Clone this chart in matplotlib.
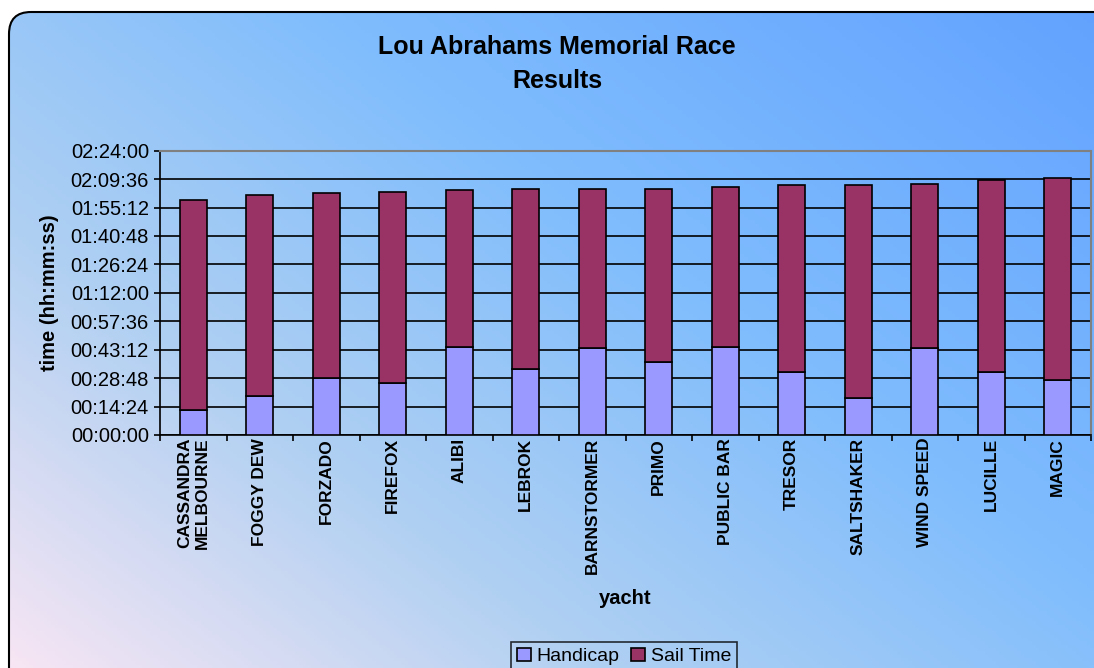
import numpy as np
import matplotlib
matplotlib.use("Agg")
import matplotlib.pyplot as plt
from matplotlib.colors import LinearSegmentedColormap
from matplotlib.patches import FancyBboxPatch
from matplotlib.ticker import FuncFormatter, MultipleLocator, FixedLocator

plt.rcParams['font.family'] = ['Liberation Sans', 'DejaVu Sans']

# ── DATA (minutes) ────────────────────────────────────────
yachts = ["CASSANDRA\nMELBOURNE", "FOGGY DEW", "FORZADO", "FIREFOX", "ALIBI",
          "LEBROK", "BARNSTORMER", "PRIMO", "PUBLIC BAR", "TRESOR",
          "SALTSHAKER", "WIND SPEED", "LUCILLE", "MAGIC"]
handicap = [12.9, 20.0, 28.8, 26.4, 44.6, 33.5, 44.0, 36.9, 44.6, 31.9, 18.5, 44.0, 31.9, 28.1]
sail_time = [106.1, 101.6, 93.8, 96.8, 79.5, 91.2, 80.7, 87.8, 81.0, 94.6, 108.0, 83.3, 97.1, 102.2]

handicap_s = np.array(handicap) * 60
sail_s = np.array(sail_time) * 60

W, H = 1094, 668
fig = plt.figure(figsize=(W / 100, H / 100), dpi=100)
fig.patch.set_facecolor("white")

# ── BACKGROUND: rounded panel with diagonal gradient ──────
bg = fig.add_axes([0, 0, 1, 1], zorder=0)
bg.set_xlim(0, W)
bg.set_ylim(H, 0)
bg.axis("off")
xx, yy = np.meshgrid(np.linspace(0, 1, 300), np.linspace(0, 1, 200))
t = (xx * 0.55 + (1 - yy) * 0.45)
cmap = LinearSegmentedColormap.from_list(
    "bg", [(0, "#f8e6f4"), (0.3, "#b0d0f2"), (0.6, "#80bdfd"), (1, "#62a2ff")])
img = bg.imshow(t, cmap=cmap, extent=[0, W, H, 0], aspect="auto", origin="upper")
panel = FancyBboxPatch((9, 12), W + 40, H + 40, boxstyle="round,pad=0,rounding_size=22",
                       facecolor="none", edgecolor="black", linewidth=1.5)
bg.add_patch(panel)
img.set_clip_path(panel)

# ── CHART ─────────────────────────────────────────────────
left, right, bottom, top = 160, 1091, 435, 150.7
ax = fig.add_axes([left / W, 1 - bottom / H, (right - left) / W, (bottom - top) / H], zorder=1)
ax.patch.set_alpha(0)

x = np.arange(len(yachts))
ax.bar(x, handicap_s, width=0.4, color="#9999ff", edgecolor="black", linewidth=1.2,
       label="Handicap", zorder=3)
ax.bar(x, sail_s, width=0.4, bottom=handicap_s, color="#993366", edgecolor="black",
       linewidth=1.2, label="Sail Time", zorder=3)

ax.set_xlim(-0.5, len(yachts) - 0.5)
ax.set_ylim(0, 8640)
ax.yaxis.set_major_locator(MultipleLocator(864))


def hms(v, pos):
    v = int(round(v))
    return f"{v // 3600:02d}:{v % 3600 // 60:02d}:{v % 60:02d}"


ax.yaxis.set_major_formatter(FuncFormatter(hms))
ax.grid(axis="y", color="black", linewidth=1.2, zorder=1)
ax.tick_params(axis="y", labelsize=14.5, length=4, width=1.2, direction="out", pad=4)

ax.set_xticks(x)
ax.set_xticklabels(yachts, rotation=90, fontsize=12.5, fontweight="bold",
                   va="top", ha="center", multialignment="right")
ax.tick_params(axis="x", which="major", length=0, pad=2)
ax.xaxis.set_minor_locator(FixedLocator(np.arange(-0.5, len(yachts), 1)))
ax.tick_params(axis="x", which="minor", length=4, width=1.2)

for s in ["left", "bottom"]:
    ax.spines[s].set_color("black")
    ax.spines[s].set_linewidth(1.2)
for s in ["top", "right"]:
    ax.spines[s].set_color("#808080")
    ax.spines[s].set_linewidth(1.5)

ax.set_ylabel("time (hh:mm:ss)", fontsize=14.5, fontweight="bold", labelpad=8)
ax.set_xlabel("yacht", fontsize=14.5, fontweight="bold", labelpad=11)

fig.text(557 / W, 1 - 47 / H, "Lou Abrahams Memorial Race", ha="center", va="center",
         fontsize=18, fontweight="bold")
fig.text(557 / W, 1 - 81 / H, "Results", ha="center", va="center",
         fontsize=18, fontweight="bold")

leg = fig.legend(loc="upper center", bbox_to_anchor=(624 / W, 1 - 632 / H), ncol=2,
                 fontsize=14, frameon=True, fancybox=False, handlelength=0.7,
                 handleheight=0.7, handletextpad=0.3, columnspacing=0.6,
                 borderpad=0.3)
leg.get_frame().set_edgecolor("black")
leg.get_frame().set_facecolor("none")
leg.get_frame().set_linewidth(1.2)

fig.savefig("out.png", dpi=100)
